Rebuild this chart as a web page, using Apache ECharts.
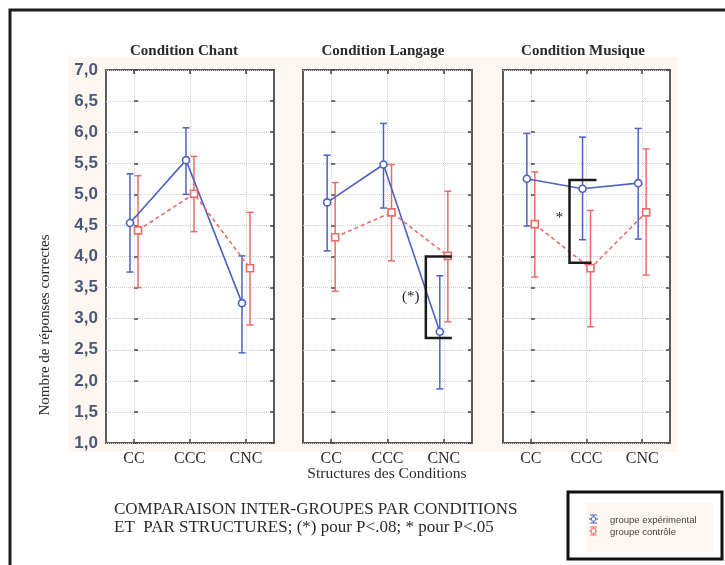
<!DOCTYPE html>
<html>
<head>
<meta charset="utf-8">
<script src="https://cdn.jsdelivr.net/npm/echarts@6/dist/echarts.min.js"></script>
<style>html,body{margin:0;padding:0;background:#fff}#c{width:725px;height:565px}</style>
</head>
<body>
<div id="c"></div>
<script>
// ---------- DATA ----------
const categories = ['CC', 'CCC', 'CNC'];
const panelTitles = ['Condition Chant', 'Condition Langage', 'Condition Musique'];
const yMin = 1, yMax = 7, yStep = 0.5;

const chantExpMean = [4.54, 5.55, 3.25];
const chantExpLow = [3.75, 5.00, 2.45];
const chantExpHigh = [5.33, 6.07, 4.01];
const chantCtlMean = [4.42, 5.01, 3.81];
const chantCtlLow = [3.50, 4.40, 2.90];
const chantCtlHigh = [5.30, 5.61, 4.71];

const langageExpMean = [4.87, 5.48, 2.79];
const langageExpLow = [4.09, 4.78, 1.87];
const langageExpHigh = [5.63, 6.14, 3.69];
const langageCtlMean = [4.31, 4.71, 4.01];
const langageCtlLow = [3.44, 3.93, 2.95];
const langageCtlHigh = [5.19, 5.48, 5.05];

const musiqueExpMean = [5.25, 5.09, 5.18];
const musiqueExpLow = [4.49, 4.27, 4.28];
const musiqueExpHigh = [5.98, 5.92, 6.06];
const musiqueCtlMean = [4.52, 3.81, 4.71];
const musiqueCtlLow = [3.67, 2.87, 3.70];
const musiqueCtlHigh = [5.36, 4.74, 5.73];

// significance brackets: [panel, category index, top value, bottom value, label value, label]
const langageBracket = [2, 4.00, 2.69, 3.35, '(*)'];
const musiqueBracket = [1, 5.23, 3.90, 4.62, '*'];

const groupNames = ['groupe expérimental', 'groupe contrôle'];
const axisTitleX = 'Structures des Conditions';
const axisTitleY = 'Nombre de réponses correctes';
const noteLines = ['COMPARAISON INTER-GROUPES PAR CONDITIONS', 'ET  PAR STRUCTURES; (*) pour P<.08; * pour P<.05'];

// ---------- STYLE / LAYOUT ----------
const BLUE = '#4e62c2', RED = '#f06a6a';
const SERIF = '"Liberation Serif", "DejaVu Serif", serif';
const SANS = '"Liberation Sans", Arial, sans-serif';
const grids = [
  {left: 106, top: 70, width: 168, height: 373},
  {left: 303, top: 70, width: 169, height: 373},
  {left: 503, top: 70, width: 167, height: 373}
];
const titleX = [184, 383, 583];
const groupShift = 0.0714; // ~4px horizontal shift of each group from the category centre
const bracketStyle = [
  null,
  {dxV: -18, dxTop: 8, dxBot: 8, dxText: -33},
  {dxV: -17, dxTop: 10, dxBot: 5, dxText: -27}
];

const panels = [
  {exp: [chantExpMean, chantExpLow, chantExpHigh], ctl: [chantCtlMean, chantCtlLow, chantCtlHigh], bracket: null},
  {exp: [langageExpMean, langageExpLow, langageExpHigh], ctl: [langageCtlMean, langageCtlLow, langageCtlHigh], bracket: langageBracket},
  {exp: [musiqueExpMean, musiqueExpLow, musiqueExpHigh], ctl: [musiqueCtlMean, musiqueCtlLow, musiqueCtlHigh], bracket: musiqueBracket}
];

function errorBarRender(params, api) {
  const x = api.value(0), lo = api.value(1), hi = api.value(2);
  const a = api.coord([x, hi]), b = api.coord([x, lo]);
  const hw = 3.5;
  const st = {stroke: api.visual('color'), lineWidth: 1.5};
  return {type: 'group', children: [
    {type: 'line', shape: {x1: a[0], y1: a[1], x2: b[0], y2: b[1]}, style: st},
    {type: 'line', shape: {x1: a[0] - hw, y1: a[1], x2: a[0] + hw, y2: a[1]}, style: st},
    {type: 'line', shape: {x1: b[0] - hw, y1: b[1], x2: b[0] + hw, y2: b[1]}, style: st}
  ]};
}

function bracketRender(bs) {
  return function (params, api) {
    const x = api.value(0);
    const t = api.coord([x, api.value(1)]);
    const b = api.coord([x, api.value(2)]);
    const l = api.coord([x, api.value(3)]);
    const st = {stroke: '#1a1a1a', lineWidth: 2.5, fill: null};
    const xv = t[0] + bs.dxV;
    return {type: 'group', children: [
      {type: 'polyline', shape: {points: [[t[0] + bs.dxTop, t[1]], [xv, t[1]], [xv, b[1]], [b[0] + bs.dxBot, b[1]]]}, style: st},
      {type: 'text', x: l[0] + bs.dxText, y: l[1], style: {text: api.value(4), font: '15px ' + SERIF, fill: '#222', align: 'center', verticalAlign: 'middle', textAlign: 'center', textVerticalAlign: 'middle'}}
    ]};
  };
}

const xAxes = [], yAxes = [], series = [];
const tickStyle = {show: true, inside: true, length: 4, lineStyle: {color: '#444', width: 1.5}};
const gridLine = {show: true, lineStyle: {color: '#cfcfcf', type: 'dotted', width: 1}};

panels.forEach((p, g) => {
  // bottom category axis
  xAxes.push({type: 'category', gridIndex: g, data: categories, position: 'bottom', boundaryGap: true,
    axisLine: {show: false}, axisTick: Object.assign({alignWithLabel: true}, tickStyle),
    splitLine: Object.assign({alignWithLabel: true}, gridLine),
    axisLabel: {show: true, margin: 8, color: '#2a2a2a', fontFamily: SERIF, fontSize: 16}});
  // top category axis (ticks only)
  xAxes.push({type: 'category', gridIndex: g, data: categories, position: 'top', boundaryGap: true,
    axisLine: {show: false}, axisTick: Object.assign({alignWithLabel: true}, tickStyle),
    splitLine: {show: false}, axisLabel: {show: false}});
  // hidden value axis for positioned marks
  xAxes.push({type: 'value', gridIndex: g, min: -0.5, max: 2.5, show: false, splitLine: {show: false}});
  yAxes.push({type: 'value', gridIndex: g, min: yMin, max: yMax, interval: yStep, position: 'left',
    axisLine: {show: false}, axisTick: tickStyle, splitLine: gridLine,
    axisLabel: {show: g === 0, margin: 8, color: '#4a5878', fontFamily: SANS, fontWeight: 'bold', fontSize: 17,
      formatter: v => v.toFixed(1).replace('.', ',')}});
  yAxes.push({type: 'value', gridIndex: g, min: yMin, max: yMax, interval: yStep, position: 'right',
    axisLine: {show: false}, axisTick: tickStyle, splitLine: {show: false}, axisLabel: {show: false}});

  const xi = 3 * g + 2, yi = 2 * g;
  const groups = [[p.exp, -groupShift, BLUE, 'circle', 'solid', groupNames[0]],
                  [p.ctl, groupShift, RED, 'rect', [4, 3], groupNames[1]]];
  groups.forEach(([arr, shift, color, sym, dash, name]) => {
    const [mean, low, high] = arr;
    series.push({type: 'custom', name, xAxisIndex: xi, yAxisIndex: yi, z: 3,
      itemStyle: {color}, renderItem: errorBarRender,
      encode: {x: 0, y: [1, 2]},
      data: categories.map((c, i) => [i + shift, low[i], high[i]])});
    series.push({type: 'line', name, xAxisIndex: xi, yAxisIndex: yi, z: 4,
      symbol: sym, symbolSize: 7, showSymbol: true,
      lineStyle: {color, width: 1.6, type: dash},
      itemStyle: {color: '#fff', borderColor: color, borderWidth: 1.6},
      data: categories.map((c, i) => [i + shift, mean[i]])});
  });
  if (p.bracket) {
    const br = p.bracket;
    series.push({type: 'custom', xAxisIndex: xi, yAxisIndex: yi, z: 5,
      renderItem: bracketRender(bracketStyle[g]),
      encode: {x: 0, y: [1, 2]},
      data: [[br[0], br[1], br[2], br[3], br[4]]]});
  }
});

const graphic = [
  {type: 'rect', z: -10, shape: {x: 68, y: 57, width: 610, height: 395}, style: {fill: '#fdf6f1'}},
  {type: 'rect', z: 10, shape: {x: 10, y: 10, width: 740, height: 600}, style: {fill: null, stroke: '#1e1e1e', lineWidth: 3}},
  {type: 'text', x: 45, y: 325, rotation: Math.PI / 2,
    style: {text: axisTitleY, font: '15px ' + SERIF, fill: '#2a2a2a', align: 'center', verticalAlign: 'middle', textAlign: 'center', textVerticalAlign: 'middle'}},
  {type: 'text', x: 387, y: 474,
    style: {text: axisTitleX, font: '15.5px ' + SERIF, fill: '#2a2a2a', align: 'center', verticalAlign: 'middle', textAlign: 'center', textVerticalAlign: 'middle'}},
  {type: 'text', x: 114, y: 510,
    style: {text: noteLines[0], font: '17px ' + SERIF, fill: '#2a2a2a', align: 'left', verticalAlign: 'middle', textAlign: 'left', textVerticalAlign: 'middle'}},
  {type: 'text', x: 114, y: 528,
    style: {text: noteLines[1], font: '17px ' + SERIF, fill: '#2a2a2a', align: 'left', verticalAlign: 'middle', textAlign: 'left', textVerticalAlign: 'middle'}},
  // legend box
  {type: 'rect', z: 10, shape: {x: 568, y: 492, width: 154, height: 67}, style: {fill: '#fff', stroke: '#111', lineWidth: 3}},
  {type: 'rect', z: 11, shape: {x: 586, y: 503, width: 127, height: 49}, style: {fill: '#fdf6f1'}},
  {type: 'group', z: 12, children: [
    {type: 'line', z: 12, shape: {x1: 589, y1: 519, x2: 598, y2: 519}, style: {stroke: BLUE, lineWidth: 1.2}},
    {type: 'line', z: 12, shape: {x1: 593.5, y1: 515, x2: 593.5, y2: 523}, style: {stroke: BLUE, lineWidth: 1}},
    {type: 'line', z: 12, shape: {x1: 590, y1: 515, x2: 597, y2: 515}, style: {stroke: BLUE, lineWidth: 1}},
    {type: 'line', z: 12, shape: {x1: 590, y1: 523, x2: 597, y2: 523}, style: {stroke: BLUE, lineWidth: 1}},
    {type: 'circle', z: 13, shape: {cx: 593.5, cy: 519, r: 2.3}, style: {fill: '#fff', stroke: BLUE, lineWidth: 1}},
    {type: 'line', z: 12, shape: {x1: 589, y1: 531, x2: 598, y2: 531}, style: {stroke: RED, lineWidth: 1.2, lineDash: [2, 1]}},
    {type: 'line', z: 12, shape: {x1: 593.5, y1: 527, x2: 593.5, y2: 535}, style: {stroke: RED, lineWidth: 1}},
    {type: 'line', z: 12, shape: {x1: 590, y1: 527, x2: 597, y2: 527}, style: {stroke: RED, lineWidth: 1}},
    {type: 'line', z: 12, shape: {x1: 590, y1: 535, x2: 597, y2: 535}, style: {stroke: RED, lineWidth: 1}},
    {type: 'rect', z: 13, shape: {x: 591.3, y: 528.8, width: 4.4, height: 4.4}, style: {fill: '#fff', stroke: RED, lineWidth: 1}},
    {type: 'text', z: 12, x: 610, y: 520, style: {text: groupNames[0], font: '9.5px ' + SANS, fill: '#444', align: 'left', verticalAlign: 'middle', textAlign: 'left', textVerticalAlign: 'middle'}},
    {type: 'text', z: 12, x: 610, y: 532, style: {text: groupNames[1], font: '9.5px ' + SANS, fill: '#444', align: 'left', verticalAlign: 'middle', textAlign: 'left', textVerticalAlign: 'middle'}}
  ]}
];
panelTitles.forEach((t, g) => graphic.push({type: 'text', x: titleX[g], y: 51,
  style: {text: t, font: 'bold 15px ' + SERIF, fill: '#2a2a2a', align: 'center', verticalAlign: 'middle', textAlign: 'center', textVerticalAlign: 'middle'}}));

const chart = echarts.init(document.getElementById('c'), null, {renderer: 'canvas'});
chart.setOption({
  backgroundColor: '#fff',
  animation: false,
  grid: grids.map(gr => Object.assign({show: true, backgroundColor: '#fff', borderColor: '#5a5a5a', borderWidth: 2, containLabel: false}, gr)),
  xAxis: xAxes,
  yAxis: yAxes,
  series,
  graphic
});
</script>
</body>
</html>
